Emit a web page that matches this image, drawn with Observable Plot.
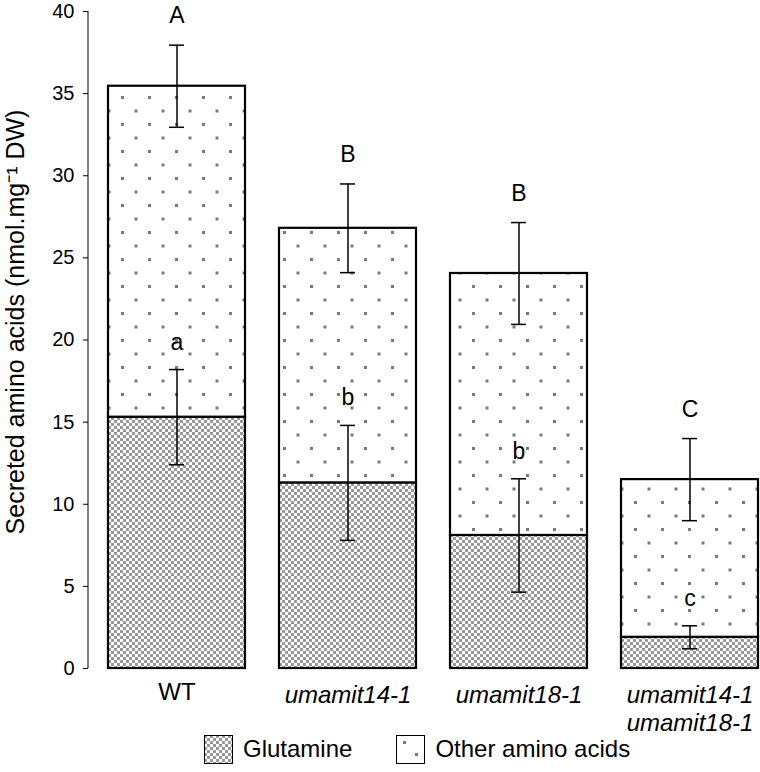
<!DOCTYPE html>
<html>
<head>
<meta charset="utf-8">
<script src="https://cdn.jsdelivr.net/npm/d3@7"></script>
<script src="https://cdn.jsdelivr.net/npm/@observablehq/plot@0.6"></script>
<style>
  html, body { margin: 0; padding: 0; background: #fff; }
  body { width: 760px; height: 772px; overflow: hidden; font-family: "Liberation Sans", Arial, sans-serif; }
  #legend { display: flex; align-items: center; height: 46px; margin-left: 204px; font-size: 24px; color: #000; }
  #legend .item { display: flex; align-items: center; margin-right: 44px; }
</style>
</head>
<body>
<div id="chart"></div>
<div id="legend"></div>
<script>
const genotypes = ["WT", "umamit14-1", "umamit18-1", "umamit14-1 umamit18-1"];
const tickLabels = ["WT", "umamit14-1", "umamit18-1", "umamit14-1\numamit18-1"];
const glutamine = [15.3, 11.3, 8.1, 1.9];
const glutamineErr = [2.9, 3.5, 3.45, 0.7];
const total = [35.45, 26.8, 24.05, 11.5];
const totalErr = [2.5, 2.7, 3.1, 2.5];
const totalLetters = ["A", "B", "B", "C"];
const glutamineLetters = ["a", "b", "b", "c"];
const yTicks = [0, 5, 10, 15, 20, 25, 30, 35, 40];
const yTitle = "Secreted amino acids (nmol.mg⁻¹ DW)";
const seriesNames = ["Glutamine", "Other amino acids"];

const rows = genotypes.map((g, i) => ({
  genotype: g,
  glut: glutamine[i],
  glutErr: glutamineErr[i],
  total: total[i],
  totalErr: totalErr[i],
  upper: totalLetters[i],
  lower: glutamineLetters[i]
}));
const labelOf = new Map(genotypes.map((g, i) => [g, tickLabels[i]]));

const W = 760, H = 726;
const font = "Liberation Sans, Arial, sans-serif";

const capInset = 61;
function errorBar(getV, getE) {
  return [
    Plot.ruleX(rows, {x: "genotype", y1: d => getV(d) - getE(d), y2: d => getV(d) + getE(d), stroke: "#000", strokeWidth: 1.5}),
    Plot.tickY(rows, {x: "genotype", y: d => getV(d) + getE(d), insetLeft: capInset, insetRight: capInset, stroke: "#000", strokeWidth: 1.5}),
    Plot.tickY(rows, {x: "genotype", y: d => getV(d) - getE(d), insetLeft: capInset, insetRight: capInset, stroke: "#000", strokeWidth: 1.5})
  ];
}

const chart = Plot.plot({
  width: W,
  height: H,
  marginTop: 11,
  marginBottom: H - 668,
  marginLeft: 88,
  marginRight: 0,
  style: {fontFamily: font, background: "#fff", color: "#000", overflow: "visible"},
  x: {type: "band", domain: genotypes, range: [88, 778], paddingInner: 0.2, paddingOuter: 0.117, align: 0.5},
  y: {domain: [0, 40]},
  marks: [
    Plot.barY(rows, {x: "genotype", y1: 0, y2: "glut", fill: "url(#glutPattern)", stroke: "#000", strokeWidth: 2.2}),
    Plot.barY(rows, {x: "genotype", y1: "glut", y2: "total", fill: "url(#dotPattern)", stroke: "#000", strokeWidth: 2.2}),
    ...errorBar(d => d.glut, d => d.glutErr),
    ...errorBar(d => d.total, d => d.totalErr),
    Plot.text(rows, {x: "genotype", y: d => d.total + d.totalErr, text: "upper", lineAnchor: "bottom", dy: -22, fontSize: 23, fill: "#000"}),
    Plot.text(rows, {x: "genotype", y: d => d.glut + d.glutErr, text: "lower", lineAnchor: "bottom", dy: -20, fontSize: 23, fill: "#000"}),
    Plot.axisY({ticks: yTicks, tickSize: 5, tickPadding: 9, fontSize: 20, label: null}),
    Plot.text([yTitle], {text: d => d, frameAnchor: "left", textAnchor: "middle", lineAnchor: "middle", rotate: -90, dx: -73, dy: -18, fontSize: 25, fill: "#000"}),
    (index, scales, values, dimensions) => {
      const line = document.createElementNS("http://www.w3.org/2000/svg", "line");
      const x0 = dimensions.marginLeft;
      line.setAttribute("x1", x0); line.setAttribute("x2", x0);
      line.setAttribute("y1", scales.y(40)); line.setAttribute("y2", scales.y(0));
      line.setAttribute("stroke", "#000"); line.setAttribute("stroke-width", 1);
      return line;
    },
    Plot.axisX(genotypes.slice(0, 1), {tickSize: 0, tickPadding: 14, fontSize: 24, tickFormat: g => labelOf.get(g), label: null}),
    Plot.axisX(genotypes.slice(1), {tickSize: 0, tickPadding: 14, fontSize: 24, fontStyle: "italic", lineHeight: 1.18, tickFormat: g => labelOf.get(g), label: null})
  ]
});

const defs = document.createElementNS("http://www.w3.org/2000/svg", "defs");
defs.innerHTML = `
  <pattern id="glutPattern" width="6" height="6" patternUnits="userSpaceOnUse">
    <rect width="6" height="6" fill="#fff"/>
    <rect x="0" y="0" width="3" height="3" fill="#999"/>
    <rect x="3" y="3" width="3" height="3" fill="#999"/>
  </pattern>
  <pattern id="dotPattern" x="13" y="15" width="27" height="27" patternUnits="userSpaceOnUse">
    <rect width="27" height="27" fill="#fff"/>
    <rect x="0" y="0" width="3" height="3" fill="#7a7a7a"/>
    <rect x="13.5" y="13.5" width="3" height="3" fill="#7a7a7a"/>
  </pattern>`;
chart.insertBefore(defs, chart.firstChild);
document.getElementById("chart").appendChild(chart);

const legend = document.getElementById("legend");
const swatches = [
  `<svg width="29" height="29" style="display:block"><rect x="0.5" y="0.5" width="28" height="28" fill="url(#glutPattern)" stroke="#000"/></svg>`,
  `<svg width="29" height="29" style="display:block"><rect x="0.5" y="0.5" width="28" height="28" fill="#fff" stroke="#000"/><rect x="7" y="6" width="3" height="3" fill="#7a7a7a"/><rect x="19" y="18" width="3" height="3" fill="#7a7a7a"/></svg>`
];
seriesNames.forEach((name, i) => {
  const item = document.createElement("div");
  item.className = "item";
  item.innerHTML = `<span style="margin-right:10px">${swatches[i]}</span><span>${name}</span>`;
  legend.appendChild(item);
});
</script>
</body>
</html>
